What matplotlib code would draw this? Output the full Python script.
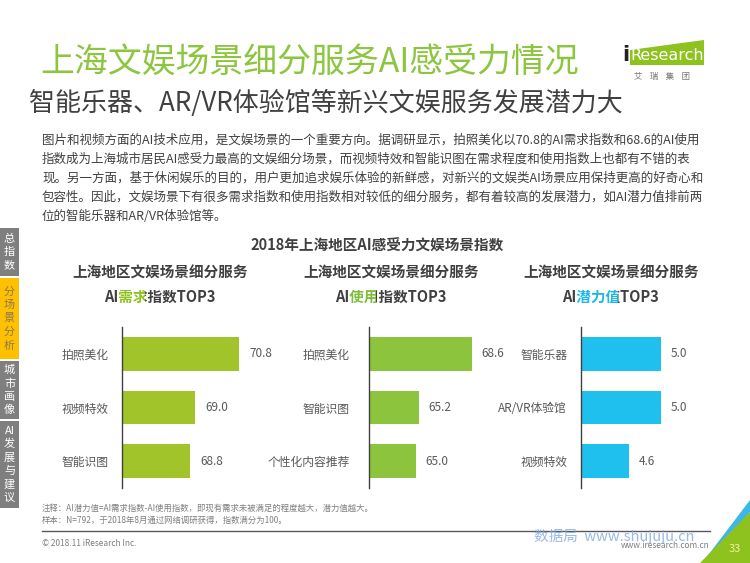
import matplotlib
matplotlib.use("Agg")
import matplotlib.pyplot as plt
from matplotlib.patches import Polygon, Rectangle
from matplotlib.transforms import Bbox

plt.rcParams['font.family'] = ['Noto Sans CJK SC', 'DejaVu Sans']

# ---------------- data ----------------
demand_cats = ["拍照美化", "视频特效", "智能识图"]
demand_vals = [70.8, 69.0, 68.8]
usage_cats = ["拍照美化", "智能识图", "个性化内容推荐"]
usage_vals = [68.6, 65.2, 65.0]
potential_cats = ["智能乐器", "AR/VR体验馆", "视频特效"]
potential_vals = [5.0, 5.0, 4.6]

title = "上海文娱场景细分服务AI感受力情况"
subtitle = "智能乐器、AR/VR体验馆等新兴文娱服务发展潜力大"
paragraph = [
    "图片和视频方面的AI技术应用，是文娱场景的一个重要方向。据调研显示，拍照美化以70.8的AI需求指数和68.6的AI使用",
    "指数成为上海城市居民AI感受力最高的文娱细分场景，而视频特效和智能识图在需求程度和使用指数上也都有不错的表",
    "现。另一方面，基于休闲娱乐的目的，用户更加追求娱乐体验的新鲜感，对新兴的文娱类AI场景应用保持更高的好奇心和",
    "包容性。因此，文娱场景下有很多需求指数和使用指数相对较低的细分服务，都有着较高的发展潜力，如AI潜力值排前两",
    "位的智能乐器和AR/VR体验馆等。",
]
chart_title = "2018年上海地区AI感受力文娱场景指数"
panel_head = "上海地区文娱场景细分服务"
panel_sub = [("AI", "需求", "指数TOP3"), ("AI", "使用", "指数TOP3"), ("AI", "潜力值", "TOP3")]
sidebar = ["总指数", "分场景分析", "城市画像", "AI发展与建议"]
notes = ["注释：AI潜力值=AI需求指数-AI使用指数，即现有需求未被满足的程度越大，潜力值越大。",
         "样本：N=792，于2018年8月通过网络调研获得，指数满分为100。"]

W, H = 750, 563
fig = plt.figure(figsize=(W / 100, H / 100), dpi=100)
fig.patch.set_facecolor("white")


def fx(x):
    return x / W


def fy(y):
    return 1 - y / H


renderer = fig.canvas.get_renderer()


def text_width(s, **kw):
    t = fig.text(0, 0, s, **kw)
    w = t.get_window_extent(renderer=renderer).width
    t.remove()
    return w


# ---------------- header ----------------
fig.text(fx(40), fy(62), title, fontsize=24.4, color="#8cc63f", va="center", ha="left")
fig.text(fx(29), fy(103), subtitle, fontsize=18.7, color="#404040", va="center", ha="left")

# logo
fig.patches.append(Polygon([[fx(630), fy(50)], [fx(704), fy(40)], [fx(704), fy(65)], [fx(630), fy(65)]],
                           closed=True, transform=fig.transFigure, facecolor="#8dc21f", edgecolor="none"))
fig.text(fx(622), fy(55), "i", fontsize=15, color="#222222", va="center", ha="left", fontweight="bold",
         family=["DejaVu Sans"])
fig.text(fx(667), fy(56), "Research", fontsize=11.5, color="white", va="center", ha="center",
         family=["Liberation Sans Narrow", "DejaVu Sans"])
fig.text(fx(662), fy(77), "艾    瑞    集    团", fontsize=6, color="#777777", va="center", ha="center")

# paragraph
for i, line in enumerate(paragraph):
    fig.text(fx(42), fy(140 + i * 19), line, fontsize=9.0, color="#404040", va="center", ha="left")

# sidebar
tabs = [(228, 276, "#7f7f7f", "white"), (278, 359, "#ffc000", "#8a7a50"),
        (361, 419, "#7f7f7f", "white"), (421, 508, "#7f7f7f", "white")]
for (y0, y1, fc, tc), lab in zip(tabs, sidebar):
    fig.patches.append(Rectangle((0, fy(y1)), fx(19), (y1 - y0) / H, transform=fig.transFigure,
                                 facecolor=fc, edgecolor="none"))
    chars = ["AI"] + list(lab[2:]) if lab.startswith("AI") else list(lab)
    n = len(chars)
    step = 13.5
    yc = (y0 + y1) / 2
    for k, ch in enumerate(chars):
        fig.text(fx(9.5), fy(yc + (k - (n - 1) / 2) * step), ch, fontsize=8, color=tc,
                 ha="center", va="center")

# chart title
fig.text(fx(377), fy(246), chart_title, fontsize=10.5, fontweight="bold", color="#404040",
         ha="center", va="center")

# ---------------- panels ----------------
panels = [
    (demand_cats, demand_vals, 122, 66.0, 24.44, "#a0c42a", "#8dc21f", 160, 10),
    (usage_cats, usage_vals, 369, 62.0, 15.59, "#8cc43e", "#7dbd3a", 391, 14),
    (potential_cats, potential_vals, 581, 4.0, 80.0, "#1fc0ee", "#1fb6e8", 611, 10),
]
ax_top, ax_bot = 327, 488
ax_w = 140

for idx, (cats, vals, left, x0, ppu, bar_c, hl_c, cx, pad) in enumerate(panels):
    ax = fig.add_axes([fx(left), fy(ax_bot), ax_w / W, (ax_bot - ax_top) / H])
    ax.barh(range(len(cats)), vals, height=0.63, color=bar_c)
    ax.set_xlim(x0, x0 + ax_w / ppu)
    ax.set_ylim(len(cats) - 0.5, -0.5)
    ax.set_yticks(range(len(cats)))
    ax.set_yticklabels(cats, fontsize=8.5, color="#595959")
    ax.tick_params(axis="y", length=0, pad=pad)
    ax.set_xticks([])
    for s in ["top", "right", "bottom"]:
        ax.spines[s].set_visible(False)
    ax.spines["left"].set_color("#404040")
    ax.spines["left"].set_linewidth(1)
    ax.patch.set_alpha(0)
    for i, v in enumerate(vals):
        ax.annotate(f"{v:.1f}", xy=(v, i), xytext=(7, 0), textcoords="offset points",
                    fontsize=8.5, color="#595959", va="center", ha="left")

    fig.text(fx(cx), fy(273), panel_head, fontsize=10.5, fontweight="bold", color="#404040",
             ha="center", va="center")
    # multi-coloured line: the full string drawn once per colour, each copy clipped to its part
    parts = panel_sub[idx]
    colors = ["#404040", hl_c, "#404040"]
    kw = dict(fontsize=10.5, fontweight="bold")
    full = "".join(parts)
    full_w = text_width(full, **kw)
    xs = cx - full_w / 2
    b1 = xs + text_width(parts[0], **kw) - 1
    b2 = xs + text_width(parts[0] + parts[1], **kw) - 3
    bounds = [(xs - 20, b1), (b1, b2), (b2, xs + full_w + 20)]
    for (bl, br), c in zip(bounds, colors):
        t = fig.text(fx(cx), fy(297), full, color=c, ha="center", va="center", **kw)
        clip = Bbox.from_extents(bl, H - 320, br, H - 275)
        t.set_clip_box(clip)
        t.set_clip_on(True)

# ---------------- footer ----------------
for i, n in enumerate(notes):
    fig.text(fx(42), fy(508 + i * 12), n, fontsize=6, color="#7f7f7f", ha="left", va="center")
fig.add_artist(plt.Line2D([fx(42), fx(710)], [fy(531), fy(531)], color="#595959", lw=1))
fig.text(fx(42), fy(543), "© 2018.11 iResearch Inc.", fontsize=6, color="#7f7f7f", ha="left", va="center")
fig.text(fx(710), fy(545), "www.iresearch.com.cn", fontsize=6, color="#7f7f7f", ha="right", va="center")
fig.text(fx(614), fy(536), "数据局  www.shujuju.cn", fontsize=10.5, color="#7fa8e0", alpha=0.8,
         ha="center", va="center")

# corner decoration
fig.patches.append(Polygon([[fx(750), fy(500)], [fx(750), fy(512)], [fx(712), fy(558)], [fx(706), fy(558)]],
                           closed=True, transform=fig.transFigure, facecolor="#3fb6e8", edgecolor="none"))
fig.patches.append(Polygon([[fx(750), fy(512)], [fx(750), fy(563)], [fx(700), fy(563)]],
                           closed=True, transform=fig.transFigure, facecolor="#8dc21f", edgecolor="none"))
fig.text(fx(735), fy(549), "33", fontsize=8, color="#f5f0a0", ha="center", va="center")

fig.savefig("out.png", dpi=100, facecolor="white")
